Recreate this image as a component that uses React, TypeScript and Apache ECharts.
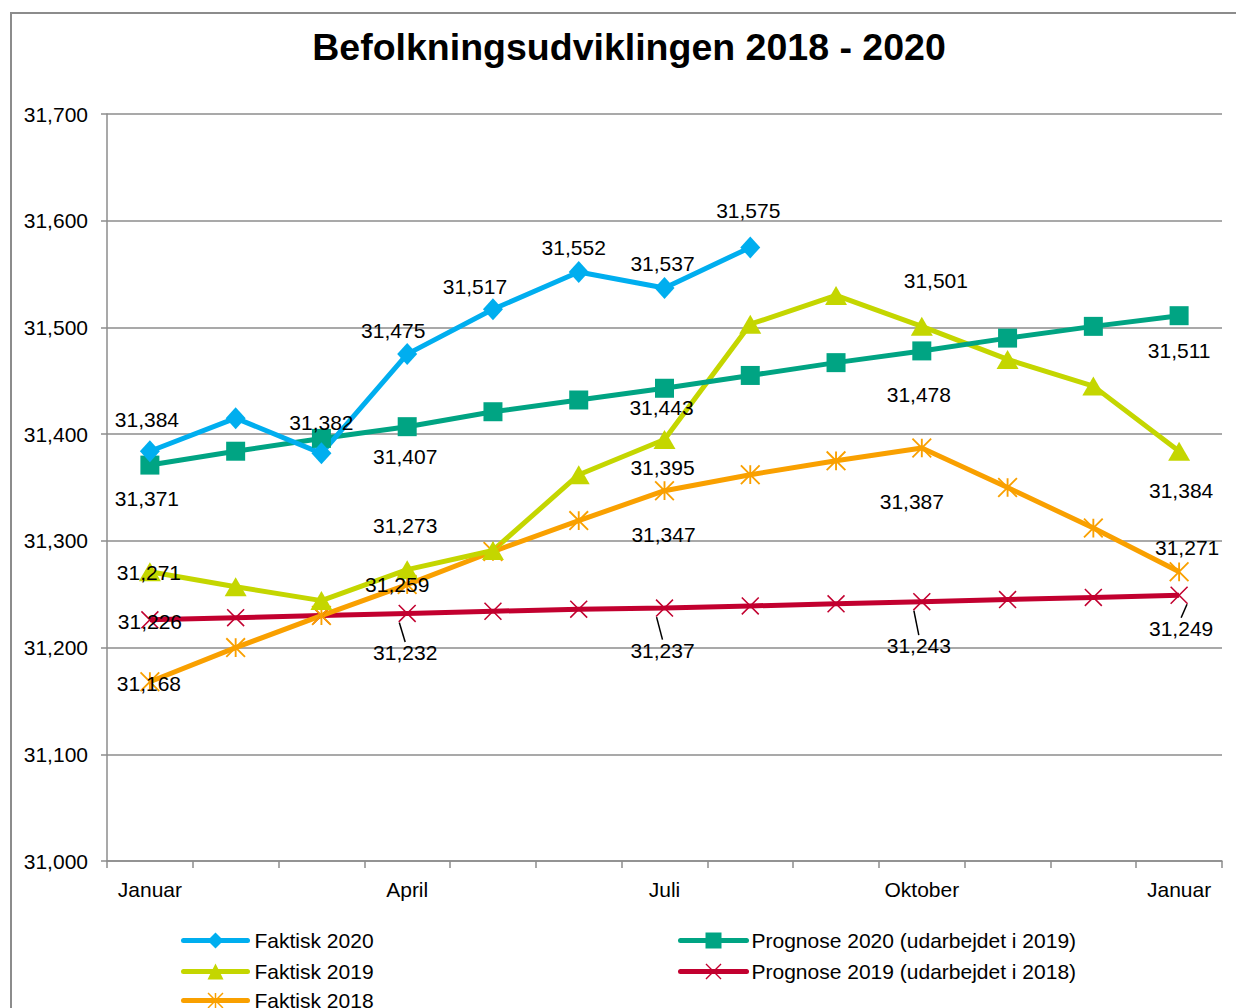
import React, { useEffect, useRef } from "react";
import * as echarts from "echarts";

const months = ["Januar", "Februar", "Marts", "April", "Maj", "Juni", "Juli", "August", "September", "Oktober", "November", "December", "Januar"];

const faktisk2020 = [31384, 31415, 31382, 31475, 31517, 31552, 31537, 31575];
const faktisk2019 = [31271, 31257, 31244, 31273, 31291, 31362, 31395, 31503, 31530, 31501, 31470, 31445, 31384];
const faktisk2018 = [31168, 31200, 31230, 31259, 31290, 31319, 31347, 31362, 31375, 31387, 31350, 31312, 31271];
const prognose2020 = [31371, 31384, 31396, 31407, 31421, 31432, 31443, 31455, 31467, 31478, 31490, 31501, 31511];
const prognose2019 = [31226, 31228, 31230, 31232, 31234, 31236, 31237, 31239, 31241, 31243, 31245, 31247, 31249];

const yTicks = { min: 31000, max: 31700, step: 100 };

const N_F2020 = "Faktisk 2020";
const N_F2019 = "Faktisk 2019";
const N_F2018 = "Faktisk 2018";
const N_P2020 = "Prognose 2020 (udarbejdet i 2019)";
const N_P2019 = "Prognose 2019 (udarbejdet i 2018)";

// label placement (pixel offsets from the point), layout only
const offF2020: Record<number, number[]> = { 0: [-3, -32], 2: [0, -31], 3: [-14, -24], 4: [-18, -23], 5: [-5, -24], 6: [-2, -24], 7: [-2, -37] };
const offF2019: Record<number, number[]> = { 0: [-1, 1], 3: [-2, -44], 6: [-2, 28], 9: [14, -46], 12: [2, 39] };
const offF2018: Record<number, number[]> = { 0: [-1, 2], 3: [-10, 0], 6: [-1, 44], 9: [-10, 53], 12: [8, -24] };
const offP2020: Record<number, number[]> = { 0: [-3, 33], 3: [-2, 30], 6: [-3, 19], 9: [-3, 44], 12: [0, 35] };
const offP2019: Record<number, number[]> = { 0: [0, 2], 3: [-2, 39], 6: [-2, 42], 9: [-3, 44], 12: [2, 33] };

const FONT = "'Liberation Sans', Arial, sans-serif";
const GRID = "#8c8c8c";

const X_PATH = "path://M-0.64,0.64L0.64,-0.64L20.64,19.36L19.36,20.64Z M19.36,-0.64L20.64,0.64L0.64,20.64L-0.64,19.36Z";
const STAR_PATH = "path://M-0.7,0.7L0.7,-0.7L20.7,19.3L19.3,20.7Z M19.3,-0.7L20.7,0.7L0.7,20.7L-0.7,19.3Z M9,0L11,0L11,20L9,20Z";

const fmt = (v: number) => Number(v).toLocaleString("en-US");

function buildData(values: number[], offsets: Record<number, number[]>, useLayout = false) {
  return values.map((v, i) => {
    const off = offsets[i];
    if (!off) return { value: v };
    if (useLayout) return { value: v, label: { show: true }, labelLine: { show: i !== 0 } };
    return { value: v, label: { show: true, offset: off } };
  });
}

function makeSeries(name: string, values: number[], color: string, symbol: string, symbolSize: any, offsets: Record<number, number[]>, extra: any = {}) {
  return {
    type: "line",
    name,
    data: buildData(values, offsets, !!extra.useLayout),
    symbol,
    symbolSize,
    showSymbol: true,
    lineStyle: { color, width: 5 },
    itemStyle: { color },
    label: {
      show: false,
      position: "inside",
      color: "#000",
      fontSize: 21,
      fontFamily: FONT,
      formatter: (p: any) => fmt(p.value),
    },
    emphasis: { disabled: true },
    ...(extra.series || {}),
  };
}

const legendBase = {
  orient: "vertical",
  padding: 0,
  itemHeight: 20,
  itemGap: 10,
  selectedMode: false,
  lineStyle: { width: 5, cap: "round" },
};

export default function App() {
  const ref = useRef<HTMLDivElement>(null);
  useEffect(() => {
    const chart = echarts.init(ref.current!, null, { renderer: "svg" });
    const option: any = {
      animation: false,
      backgroundColor: "#fff",
      textStyle: { fontFamily: FONT },
      grid: { left: 107, right: 14, top: 114, bottom: 147, containLabel: false, outerBoundsMode: "none" },
      graphic: [
        {
          type: "rect",
          silent: true,
          z: -10,
          shape: { x: 11, y: 13, width: 1300, height: 1100 },
          style: { fill: "none", stroke: GRID, lineWidth: 2 },
        },
        {
          type: "text",
          x: 629,
          y: 47,
          style: {
            text: "Befolkningsudviklingen 2018 - 2020",
            font: `bold 37.5px ${FONT}`,
            fill: "#000",
            textAlign: "center",
            textVerticalAlign: "middle",
          },
        },
      ],
      legend: [
        {
          ...legendBase,
          data: [N_F2020, N_F2019],
          left: 181,
          top: 930,
          itemWidth: 64,
          textStyle: { fontSize: 21, fontFamily: FONT, color: "#000", padding: [0, 0, 0, 2] },
        },
        {
          ...legendBase,
          data: [N_F2018],
          left: 181,
          top: 990,
          itemWidth: 64,
          textStyle: { fontSize: 21, fontFamily: FONT, color: "#000", padding: [0, 0, 0, 2] },
        },
        {
          ...legendBase,
          data: [N_P2020, N_P2019],
          left: 678,
          top: 930,
          itemWidth: 66,
          textStyle: { fontSize: 21, fontFamily: FONT, color: "#000", padding: [0, 0, 0, 0] },
        },
      ],
      xAxis: {
        type: "category",
        data: months,
        boundaryGap: true,
        axisLine: { show: true, lineStyle: { color: GRID, width: 1.5 } },
        axisTick: { show: true, interval: 0, length: 7, alignWithLabel: false, lineStyle: { color: GRID, width: 1.5 } },
        axisLabel: { interval: 2, margin: 18, fontSize: 21, fontFamily: FONT, color: "#000" },
        splitLine: { show: false },
      },
      yAxis: {
        type: "value",
        min: yTicks.min,
        max: yTicks.max,
        interval: yTicks.step,
        axisLine: { show: true, lineStyle: { color: GRID, width: 1.5 } },
        axisTick: { show: true, length: 6, lineStyle: { color: GRID, width: 1.5 } },
        axisLabel: { margin: 19, fontSize: 21, fontFamily: FONT, color: "#000", formatter: (v: number) => fmt(v) },
        splitLine: { show: true, lineStyle: { color: GRID, width: 1.5 } },
      },
      series: [
        makeSeries(N_P2019, prognose2019, "#C2002F", X_PATH, 18, offP2019, {
          useLayout: true,
          series: {
            labelLayout: (p: any) => {
              const off = offP2019[p.dataIndex];
              return off ? { dx: off[0], dy: off[1] } : {};
            },
            labelLine: { show: true, lineStyle: { color: "#000", width: 1.5 } },
          },
        }),
        makeSeries(N_F2018, faktisk2018, "#F9A000", STAR_PATH, 20, offF2018),
        makeSeries(N_F2019, faktisk2019, "#C4D600", "triangle", [22, 19], offF2019),
        makeSeries(N_P2020, prognose2020, "#00A483", "rect", 19, offP2020),
        makeSeries(N_F2020, faktisk2020, "#00AEEF", "diamond", [20, 22], offF2020),
      ],
    };
    chart.setOption(option);
    return () => chart.dispose();
  }, []);
  return <div ref={ref} style={{ position: "absolute", left: 0, top: 0, width: 1236, height: 1008 }} />;
}
